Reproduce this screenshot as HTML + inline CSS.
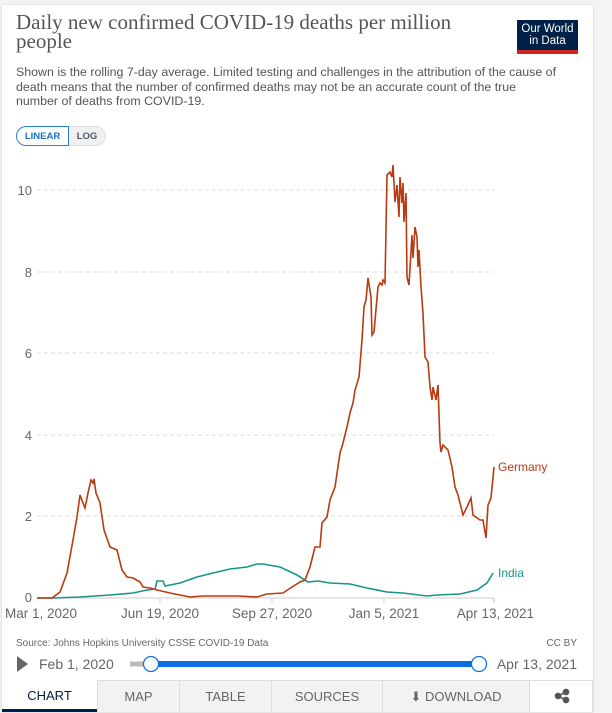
<!DOCTYPE html>
<html><head><meta charset="utf-8"><style>
body{margin:0;width:612px;height:712px;background:#f4f4f4;overflow:hidden;font-family:"Liberation Sans",sans-serif;}
.card{position:absolute;left:2px;top:5px;width:591px;height:707px;background:#fff;box-shadow:0 0 2px rgba(0,0,0,.2);}
.t{position:absolute;left:16px;top:13px;font-family:"Liberation Serif",serif;font-size:21px;line-height:19px;color:#555;width:480px;}
.sub{position:absolute;left:16px;top:65px;font-size:12.4px;line-height:14.5px;color:#555;width:545px;}
.logo{position:absolute;left:517px;top:20px;width:61px;height:34px;background:#002147;color:#fff;font-size:11.5px;line-height:12px;text-align:center;box-sizing:border-box;padding-top:3px;border-bottom:4px solid #ce261e;}
.btn{position:absolute;top:126px;height:20px;font-size:9.5px;font-weight:bold;line-height:20px;text-align:center;box-sizing:border-box;}
svg{position:absolute;left:0;top:0;}
.tabs{position:absolute;left:0;top:680px;width:612px;height:32px;}
.tab{position:absolute;top:0;height:32px;background:#f2f2f2;border-left:1px solid #ddd;border-top:1px solid #ddd;box-sizing:border-box;font-size:13px;color:#666;text-align:center;line-height:32px;}
</style></head><body>
<div class="card"></div>
<div class="t">Daily new confirmed COVID-19 deaths per million people</div>
<div class="sub">Shown is the rolling 7-day average. Limited testing and challenges in the attribution of the cause of death means that the number of confirmed deaths may not be an accurate count of the true number of deaths from COVID-19.</div>
<div class="logo">Our World<br>in Data</div>
<div class="btn" style="left:16px;width:53px;border:1px solid #2c80d3;border-radius:10px 0 0 10px;color:#1a70c8;">LINEAR</div>
<div class="btn" style="left:69px;width:37px;border:1px solid #ddd;border-left:none;border-radius:0 10px 10px 0;background:#f0f0f0;color:#4a5a6a;">LOG</div>
<svg width="612" height="712" font-family="Liberation Sans, sans-serif">
<g stroke="#ddd" stroke-dasharray="4,3" stroke-width="1">
<line x1="37" x2="494" y1="516" y2="516"/><line x1="37" x2="494" y1="435" y2="435"/><line x1="37" x2="494" y1="353" y2="353"/><line x1="37" x2="494" y1="272" y2="272"/><line x1="37" x2="494" y1="190" y2="190"/>
</g>
<line x1="37" x2="494" y1="598" y2="598" stroke="#ccc"/>
<g stroke="#ccc"><line x1="160" x2="160" y1="598" y2="603"/><line x1="272" x2="272" y1="598" y2="603"/><line x1="384" x2="384" y1="598" y2="603"/><line x1="494" x2="494" y1="598" y2="603"/></g>
<g fill="#666" font-size="13" text-anchor="end"><text x="32" y="602">0</text><text x="32" y="521">2</text><text x="32" y="440">4</text><text x="32" y="358">6</text><text x="32" y="277">8</text><text x="32" y="195">10</text></g>
<g fill="#666" font-size="13.5" text-anchor="middle"><text x="41" y="618">Mar 1, 2020</text><text x="160" y="618">Jun 19, 2020</text><text x="272" y="618">Sep 27, 2020</text><text x="384" y="618">Jan 5, 2021</text><text x="534" y="618" text-anchor="end">Apr 13, 2021</text></g>
<polyline fill="none" stroke="#18958a" stroke-width="1.6" points="37,598 53,598 80,597 110,595 133,593 147,590 155,589 157,581 163,581 165,586 180,583 197,577 213,573 230,569 247,567 257,564 263,564 280,567 297,575 308,582 318,581 330,583 350,584 367,588 387,592 403,593 427,596 437,595 460,594 477,590 487,583 493,573"/>
<polyline fill="none" stroke="#b83a10" stroke-width="1.6" points="37,598 52,598 60,592 67,573 73,540 77,517 80,495 83,503 85,508 88,493 91,480 93,483 94,479 96,493 100,503 104,530 110,547 117,550 122,570 127,577 133,578 140,582 143,587 150,588 157,590 170,593 190,597 203,596 237,596 257,597 267,594 283,593 292,587 300,582 305,580 310,567 315,547 320,547 322,523 327,517 330,500 335,487 340,453 343,443 347,427 350,413 353,403 355,390 359,377 362,340 364,307 366,300 368,278 371,297 372,335 374,332 378,287 380,283 382,285 383,280 385,283 387,175 390,172 392,177 393,165 395,202 397,185 399,217 400,177 402,203 403,183 404,222 406,193 407,277 409,285 412,235 413,258 415,227 417,237 418,267 419,250 421,287 423,313 425,357 428,362 430,387 432,400 433,387 436,400 438,385 440,443 441,452 443,445 448,450 452,467 455,487 458,495 463,515 467,507 471,498 473,515 480,520 483,520 486,538 488,505 491,498 494,467"/>
<text x="498" y="471" fill="#b83a10" font-size="12">Germany</text>
<text x="498" y="577" fill="#18958a" font-size="12">India</text>
<text x="16" y="646" fill="#666" font-size="10">Source: Johns Hopkins University CSSE COVID-19 Data</text>
<text x="577" y="646" fill="#666" font-size="10" text-anchor="end">CC BY</text>
<polygon points="17,656 17,672 28,664" fill="#666"/>
<text x="39" y="669" fill="#666" font-size="14">Feb 1, 2020</text>
<text x="577" y="669" fill="#666" font-size="14" text-anchor="end">Apr 13, 2021</text>
<line x1="130" x2="151" y1="664" y2="664" stroke="#bbb" stroke-width="5"/>
<line x1="151" x2="479" y1="664" y2="664" stroke="#0a6ee0" stroke-width="6"/>
<circle cx="151" cy="664" r="7.5" fill="#fff" stroke="#0a6ee0" stroke-width="1.2"/>
<circle cx="479" cy="664" r="7.5" fill="#fff" stroke="#0a6ee0" stroke-width="1.2"/>
<g fill="#555" stroke="#555" stroke-width="1.5"><line x1="558" y1="696" x2="566" y2="692"/><line x1="558" y1="696" x2="566" y2="700"/><circle cx="558" cy="696" r="2.5"/><circle cx="566" cy="692" r="2.5"/><circle cx="566" cy="700" r="2.5"/></g>
</svg>
<div class="tabs">
<div class="tab" style="left:2px;width:95px;background:#fff;border:none;border-bottom:3px solid #002147;color:#002147;">CHART</div>
<div class="tab" style="left:97px;width:82px;">MAP</div>
<div class="tab" style="left:179px;width:92px;">TABLE</div>
<div class="tab" style="left:271px;width:111px;">SOURCES</div>
<div class="tab" style="left:382px;width:147px;">⬇ DOWNLOAD</div>
<div class="tab" style="left:529px;width:64px;border-right:1px solid #ddd;background:transparent;"></div>
</div>
<svg width="612" height="712" style="pointer-events:none"><g fill="#555" stroke="#555" stroke-width="1.5"><line x1="558" y1="696" x2="566" y2="692"/><line x1="558" y1="696" x2="566" y2="700"/><circle cx="558" cy="696" r="2.5"/><circle cx="566" cy="692" r="2.5"/><circle cx="566" cy="700" r="2.5"/></g></svg>
</body></html>
